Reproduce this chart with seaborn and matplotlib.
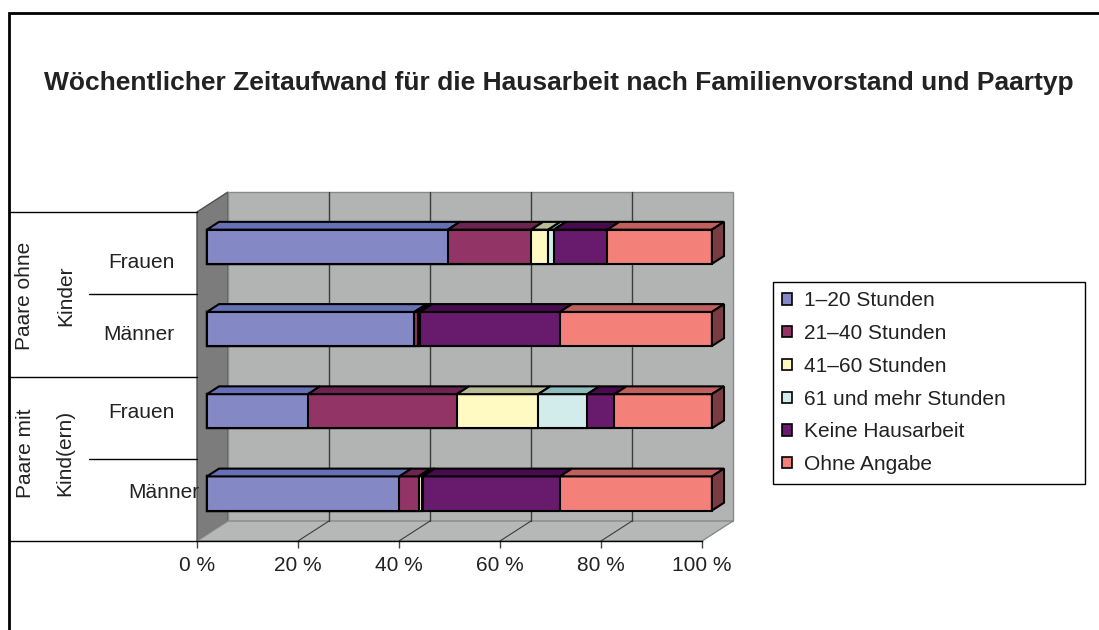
import matplotlib
matplotlib.use("Agg")
import matplotlib.pyplot as plt
import matplotlib.transforms as mtransforms
from matplotlib.patches import Polygon, Rectangle, Patch
import pandas as pd
import seaborn as sns

# --- data (percent of each group) ---
title = "Wöchentlicher Zeitaufwand für die Hausarbeit nach Familienvorstand und Paartyp"
rows = ["ohne_Frauen", "ohne_Maenner", "mit_Frauen", "mit_Maenner"]
row_labels = ["Frauen", "Männer", "Frauen", "Männer"]
groups = ["Paare ohne\nKinder", "Paare mit\nKind(ern)"]
series = ["1–20 Stunden", "21–40 Stunden", "41–60 Stunden",
          "61 und mehr Stunden", "Keine Hausarbeit", "Ohne Angabe"]

h_1_20 = [47.7, 41.1, 20.0, 38.1]
h_21_40 = [16.5, 0.6, 29.5, 3.8]
h_41_60 = [3.4, 0.3, 16.1, 0.7]
h_61_plus = [1.1, 0.2, 9.7, 0.1]
keine = [10.6, 27.7, 5.4, 27.2]
ohne_angabe = [20.7, 30.1, 19.3, 30.1]
xticks = [0, 20, 40, 60, 80, 100]

front_cols = ["#8489c5", "#923566", "#fff9c2", "#d2ecec", "#681a6c", "#f4807a"]
top_cols = ["#6670b4", "#6c2450", "#b8bb96", "#8cbcbc", "#4a0a50", "#c0605e"]
side_col = "#7a3c42"

df = pd.DataFrame({"row": rows})
for s, v in zip(series, [h_1_20, h_21_40, h_41_60, h_61_plus, keine, ohne_angabe]):
    df[s] = v
cum = df[series].cumsum(axis=1)
start = cum.shift(1, axis=1).fillna(0)

sns.set_theme(style="white")
plt.rcParams["font.family"] = ["Liberation Sans", "DejaVu Sans"]

W, H = 1099, 630
fig = plt.figure(figsize=(W / 100, H / 100), dpi=100)
ax = fig.add_axes([197 / W, 1 - 541 / H, 505 / W, 329 / H])

# oblique depth of the 3d box, in data units
DX = 31 * 100 / 505
DY = -20 * 4 / 329
f0, f1 = 0.32, 0.71   # bar front / back inside the depth
BH = 0.415

# walls and floor
ax.add_patch(Polygon([(0, -0.5), (DX, -0.5 + DY), (DX, 3.5 + DY), (0, 3.5)],
                     fc="#7c7c7c", ec="#505050", lw=1, zorder=0, clip_on=False))
ax.add_patch(Rectangle((DX, -0.5 + DY), 100, 4, fc="#b2b4b4", ec="#8a8a8a",
                       lw=1, zorder=0, clip_on=False))
ax.add_patch(Polygon([(0, 3.5), (100, 3.5), (100 + DX, 3.5 + DY), (DX, 3.5 + DY)],
                     fc="#b6b8b8", ec="#8a8a8a", lw=1, zorder=0, clip_on=False))
for t in xticks[1:-1]:
    ax.plot([t + DX, t + DX], [-0.5 + DY, 3.5 + DY], color="#3c3c3c", lw=1,
            zorder=1, clip_on=False)
    ax.plot([t, t + DX], [3.5, 3.5 + DY], color="#3c3c3c", lw=0.8,
            zorder=1, clip_on=False)

# stacked bars: cumulative layers drawn from the last to the first
for k in reversed(range(len(series))):
    n_before = len(ax.containers)
    sns.barplot(x=cum[series[k]], y=df["row"], order=rows, orient="h",
                color=front_cols[k], saturation=1, edgecolor="black",
                linewidth=1.5, width=BH, errorbar=None, ax=ax, zorder=3)
    for bar in ax.containers[n_before]:
        bar.set_x(bar.get_x() + f0 * DX)
        bar.set_y(bar.get_y() + f0 * DY)
        bar.set_clip_on(False)

# top faces and end face
bdx, bdy = (f1 - f0) * DX, (f1 - f0) * DY
for i in range(len(rows)):
    yt = i - BH / 2 + f0 * DY
    yb = i + BH / 2 + f0 * DY
    for k, s in enumerate(series):
        x0 = start.loc[i, s] + f0 * DX
        x1 = cum.loc[i, s] + f0 * DX
        if x1 - x0 <= 0:
            continue
        ax.add_patch(Polygon([(x0, yt), (x1, yt), (x1 + bdx, yt + bdy), (x0 + bdx, yt + bdy)],
                             fc=top_cols[k], ec="black", lw=1.5, zorder=3, clip_on=False))
    xe = cum.loc[i, series[-1]] + f0 * DX
    ax.add_patch(Polygon([(xe, yt), (xe + bdx, yt + bdy), (xe + bdx, yb + bdy), (xe, yb)],
                         fc=side_col, ec="black", lw=1.5, zorder=3, clip_on=False))

ax.set_xlim(0, 100)
ax.set_ylim(3.5, -0.5)
ax.set_xlabel("")
ax.set_ylabel("")
ax.set_yticks([])
ax.set_xticks(xticks)
ax.set_xticklabels([f"{t} %" for t in xticks], fontsize=15, color="#222222")
ax.tick_params(axis="x", bottom=True, length=5, width=1, color="#444444", pad=6)
for side in ["top", "right", "left"]:
    ax.spines[side].set_visible(False)
ax.spines["bottom"].set_color("black")
ax.spines["bottom"].set_linewidth(1)
ax.patch.set_alpha(0)

# category table on the left
tr = mtransforms.blended_transform_factory(fig.transFigure, ax.transData)
for y in [-0.5, 1.5, 3.5]:
    ax.plot([9 / W, 197 / W], [y, y], color="black", lw=1, transform=tr, clip_on=False)
for y in [0.5, 2.5]:
    ax.plot([89 / W, 197 / W], [y, y], color="black", lw=1, transform=tr, clip_on=False)

label_pos = [(141, 262, "center"), (139, 335, "center"), (141, 413, "center"), (199, 493, "right")]
for lab, (px, py, ha) in zip(row_labels, label_pos):
    fig.text(px / W, 1 - py / H, lab, ha=ha, va="center", fontsize=15, color="#222222")
for g, py, ls in zip(groups, [296, 453], [2.5, 2.3]):
    fig.text(45 / W, 1 - py / H, g, ha="center", va="center", rotation=90,
             fontsize=15, linespacing=ls, multialignment="center", color="#222222")

fig.text(559 / W, 1 - 83 / H, title, ha="center", va="center", fontsize=19,
         fontweight="bold", color="#222222")

handles = [Patch(fc=c, ec="black", lw=1.2) for c in front_cols]
leg = fig.legend(handles, series, loc="upper left",
                 bbox_to_anchor=(773 / W, 1 - 485 / H, 312 / W, 203 / H),
                 bbox_transform=fig.transFigure, mode="expand", borderaxespad=0,
                 fontsize=15, frameon=True, fancybox=False, edgecolor="black",
                 framealpha=1, handlelength=0.45, handleheight=0.45,
                 handletextpad=0.6, labelspacing=0.66, borderpad=0.45)
leg.get_frame().set_linewidth(1)
for t in leg.get_texts():
    t.set_color("#222222")

# outer chart border
fig.add_artist(Rectangle((9 / W, -0.5), 2, 1.5 - 13 / H, transform=fig.transFigure,
                         fill=False, ec="black", lw=2))

fig.savefig("out.png", dpi=100)
